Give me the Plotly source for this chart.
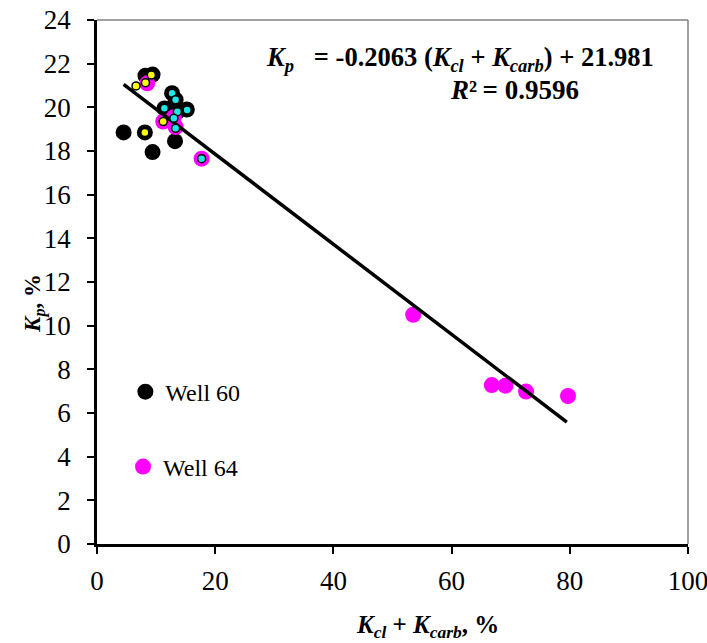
import plotly.graph_objects as go

# Well 60 samples (large black markers)
well60_x = [4.5, 8.1, 9.4, 13.2, 8.2, 9.4, 12.7, 13.3, 11.4, 15.2, 13.6]
well60_y = [18.85, 18.85, 17.95, 18.45, 21.45, 21.5, 20.65, 20.35, 19.95, 19.9, 19.8]

# Well 64 samples (large magenta markers)
well64_x = [8.5, 11.2, 13.0, 13.3, 17.7, 53.5, 66.8, 69.1, 72.6, 79.7]
well64_y = [21.1, 19.35, 19.55, 19.1, 17.65, 10.5, 7.28, 7.25, 6.98, 6.78]

# Inner highlight markers
yellow_x = [6.6, 8.2, 9.2, 8.1, 11.2]
yellow_y = [20.98, 21.13, 21.48, 18.85, 19.35]
cyan_x = [12.7, 13.3, 11.4, 15.25, 13.6, 13.0, 13.3, 17.7]
cyan_y = [20.65, 20.35, 19.96, 19.88, 19.8, 19.5, 19.04, 17.65]

# Linear trend
slope = -0.2063
intercept = 21.981
r2 = 0.9596
trend_x = [4.5, 79.5]
trend_y = [slope * v + intercept for v in trend_x]

x_ticks = [0, 20, 40, 60, 80, 100]
y_ticks = list(range(0, 25, 2))

FONT = "Liberation Serif"

fig = go.Figure()
fig.add_trace(go.Scatter(
    x=well60_x, y=well60_y, mode="markers", name="Well 60", legend="legend",
    marker=dict(color="black", size=16, line=dict(width=0)),
))
fig.add_trace(go.Scatter(
    x=well64_x, y=well64_y, mode="markers", name="Well 64", legend="legend2",
    marker=dict(color="#FF00FF", size=16, line=dict(width=0)),
))
fig.add_trace(go.Scatter(
    x=trend_x, y=trend_y, mode="lines", showlegend=False,
    line=dict(color="black", width=3.5),
))
fig.add_trace(go.Scatter(
    x=yellow_x, y=yellow_y, mode="markers", showlegend=False,
    marker=dict(color="#FFFF00", size=8, line=dict(color="black", width=1.5)),
))
fig.add_trace(go.Scatter(
    x=cyan_x, y=cyan_y, mode="markers", showlegend=False,
    marker=dict(color="#22E6E6", size=8, line=dict(color="black", width=1.5)),
))

eq_text = ("<b><i>K<sub>p</sub></i>   = -0.2063 (<i>K<sub>cl</sub></i> + "
           "<i>K<sub>carb</sub></i>) + 21.981</b>")
fig.add_annotation(x=0.6145, y=0.926, xref="paper", yref="paper", text=eq_text,
                   showarrow=False, xanchor="center", yanchor="middle",
                   font=dict(family=FONT, size=26.5, color="black"))
fig.add_annotation(x=0.706, y=0.866, xref="paper", yref="paper",
                   text=f"<b><i>R</i>²\u2009= {r2}</b>",
                   showarrow=False, xanchor="center", yanchor="middle",
                   font=dict(family=FONT, size=27, color="black"))

# axis titles
fig.add_annotation(x=0.56, y=-0.158, xref="paper", yref="paper",
                   text="<b><i>K<sub>cl</sub></i> + <i>K<sub>carb</sub></i>, %</b>",
                   showarrow=False, xanchor="center", yanchor="middle",
                   font=dict(family=FONT, size=25, color="black"))
fig.add_annotation(x=-0.105, y=0.46, xref="paper", yref="paper",
                   text="<b><i>K<sub>p</sub></i>, %</b>", textangle=-90,
                   showarrow=False, xanchor="center", yanchor="middle",
                   font=dict(family=FONT, size=23, color="black"))

# light frame on top and right
fig.add_shape(type="line", xref="paper", yref="paper", x0=0, x1=1, y0=1, y1=1,
              line=dict(color="#808080", width=1.5))
fig.add_shape(type="line", xref="paper", yref="paper", x0=1, x1=1, y0=0, y1=1,
              line=dict(color="#808080", width=1.5))

axis_font = dict(family=FONT, size=27, color="black")
fig.update_layout(
    width=707, height=643,
    margin=dict(l=97, r=19, t=20, b=99),
    paper_bgcolor="white", plot_bgcolor="white",
    font=dict(family=FONT, color="black"),
    legend=dict(x=0.048, y=0.29, xanchor="left", yanchor="middle",
                bgcolor="rgba(0,0,0,0)", font=dict(family=FONT, size=24)),
    legend2=dict(x=0.044, y=0.147, xanchor="left", yanchor="middle",
                 bgcolor="rgba(0,0,0,0)", font=dict(family=FONT, size=24)),
    xaxis=dict(range=[0, 100], tickvals=x_ticks, ticks="outside", ticklen=7,
               tickwidth=1.5, tickcolor="black", showline=True, linecolor="black",
               linewidth=2.5, showgrid=False, zeroline=False, tickfont=axis_font,
               automargin=False, ticklabelstandoff=4, ticklabeloverflow="allow"),
    yaxis=dict(range=[0, 24], tickvals=y_ticks, ticks="outside", ticklen=7,
               tickwidth=1.5, tickcolor="black", showline=True, linecolor="black",
               linewidth=2.5, showgrid=False, zeroline=False, tickfont=axis_font,
               automargin=False, ticklabelstandoff=11, ticklabeloverflow="allow"),
)

fig.write_html("out.html")
